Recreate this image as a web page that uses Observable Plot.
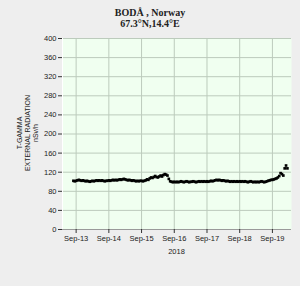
<!DOCTYPE html>
<html>
<head>
<meta charset="utf-8">
<script src="https://cdn.jsdelivr.net/npm/d3@7"></script>
<script src="https://cdn.jsdelivr.net/npm/@observablehq/plot@0.6"></script>
<style>
  html, body { margin: 0; padding: 0; background: #eeeeee; }
  #wrap { position: relative; width: 300px; height: 286px; overflow: hidden; background: #eeeeee; }
  #wrap svg { position: absolute; left: 0; top: 0; }
  .t { position: absolute; font-family: "Liberation Serif", serif; font-weight: bold; font-size: 10px; color: #222; width: 300px; text-align: center; left: 0; }
  .xl { position: absolute; font-family: "Liberation Sans", sans-serif; font-size: 7.5px; color: #222; }
  .yl { position: absolute; font-family: "Liberation Sans", sans-serif; font-size: 7px; color: #222; transform-origin: center center; white-space: nowrap; text-align: center; line-height: 8px; }
</style>
</head>
<body>
<div id="wrap">
  <div class="t" style="top:7px;">BODÅ , Norway</div>
  <div class="t" style="top:18px;">67.3°N,14.4°E</div>
</div>
<script>
// ---- data ----
const titleLines = ["BODÅ , Norway", "67.3°N,14.4°E"];
const yLabelLines = ["T-GAMMA", "EXTERNAL RADIATION", "nSv/h"];
const xTitle = "2018";
const startTime = "2018-09-12T22:00:00Z"; // first hourly reading
const sep12 = [102, 101];
const sep13 = [102,103,104,103,102,103,102,101,102,101,100,101,102,101,102,103,102,103,102,103,102,101,102,102];
const sep14 = [103,102,103,104,103,104,103,104,105,104,105,106,105,104,103,104,103,102,103,102,101,102,101,102];
const sep15 = [102,101,102,103,105,104,107,109,108,110,112,110,109,111,113,111,114,116,115,113,106,101,100,99];
const sep16 = [100,99,100,99,100,101,100,99,100,101,100,99,100,100,101,100,99,100,101,100,101,100,101,100];
const sep17 = [101,100,101,102,101,102,103,104,103,104,103,102,103,102,101,102,101,100,101,100,101,100,101,100];
const sep18 = [101,100,101,100,101,100,99,100,101,100,99,100,99,100,99,100,101,100,99,100,101,102,103,104];
const sep19 = [104,105,106,107,109,112,118,116,113,128,134,128];
const xDomain = ["2018-09-12T14:00:00Z", "2018-09-19T14:00:00Z"];
const xTicks = ["2018-09-13","2018-09-14","2018-09-15","2018-09-16","2018-09-17","2018-09-18","2018-09-19"];
const yTicks = [0,40,80,120,160,200,240,280,320,360,400];

const values = [...sep12, ...sep13, ...sep14, ...sep15, ...sep16, ...sep17, ...sep18, ...sep19];
const t0 = new Date(startTime);
const data = values.map((v, i) => ({ t: d3.utcHour.offset(t0, i), v }));

const fmt = d3.utcFormat("%b-%d");
const chart = Plot.plot({
  width: 300,
  height: 286,
  marginTop: 38,
  marginBottom: 57,
  marginLeft: 62,
  marginRight: 9,
  style: { background: "transparent", fontFamily: "Liberation Sans, sans-serif", fontSize: "7.5px", color: "#222" },
  x: { type: "utc", domain: xDomain.map(d => new Date(d)) },
  y: { domain: [0, 400] },
  marks: [
    Plot.frame({ fill: "#f0fff0", stroke: null }),
    Plot.gridX(xTicks.map(d => new Date(d)), { stroke: "#bccbbc", strokeOpacity: 1 }),
    Plot.gridY(yTicks, { stroke: "#bccbbc", strokeOpacity: 1 }),
    Plot.ruleY([0], { stroke: "#9a9a9a" }),
    Plot.ruleX([new Date(xDomain[0])], { stroke: "#ffffff" }),
    Plot.axisX(xTicks.map(d => new Date(d)), { tickFormat: fmt, tickSize: 4, tickPadding: 2, label: null, stroke: "#333" }),
    Plot.axisY(yTicks, { tickSize: 4, tickPadding: 2, label: null, stroke: "#333" }),
    Plot.dot(data, { x: "t", y: "v", symbol: "square", r: 1.5, fill: "#000", stroke: null })
  ]
});
const wrap = document.getElementById("wrap");
wrap.insertBefore(chart, wrap.firstChild);

// x title
const xt = document.createElement("div");
xt.className = "xl";
xt.textContent = xTitle;
xt.style.left = "0px"; xt.style.width = "353px"; xt.style.textAlign = "center"; xt.style.top = "247px";
wrap.appendChild(xt);

// y title (rotated)
const yl = document.createElement("div");
yl.className = "yl";
yl.innerHTML = yLabelLines.join("<br>");
wrap.appendChild(yl);
const w = yl.offsetWidth, h = yl.offsetHeight;
yl.style.left = (28 - w / 2) + "px";
yl.style.top = (133 - h / 2) + "px";
yl.style.transform = "rotate(-90deg)";
</script>
</body>
</html>
